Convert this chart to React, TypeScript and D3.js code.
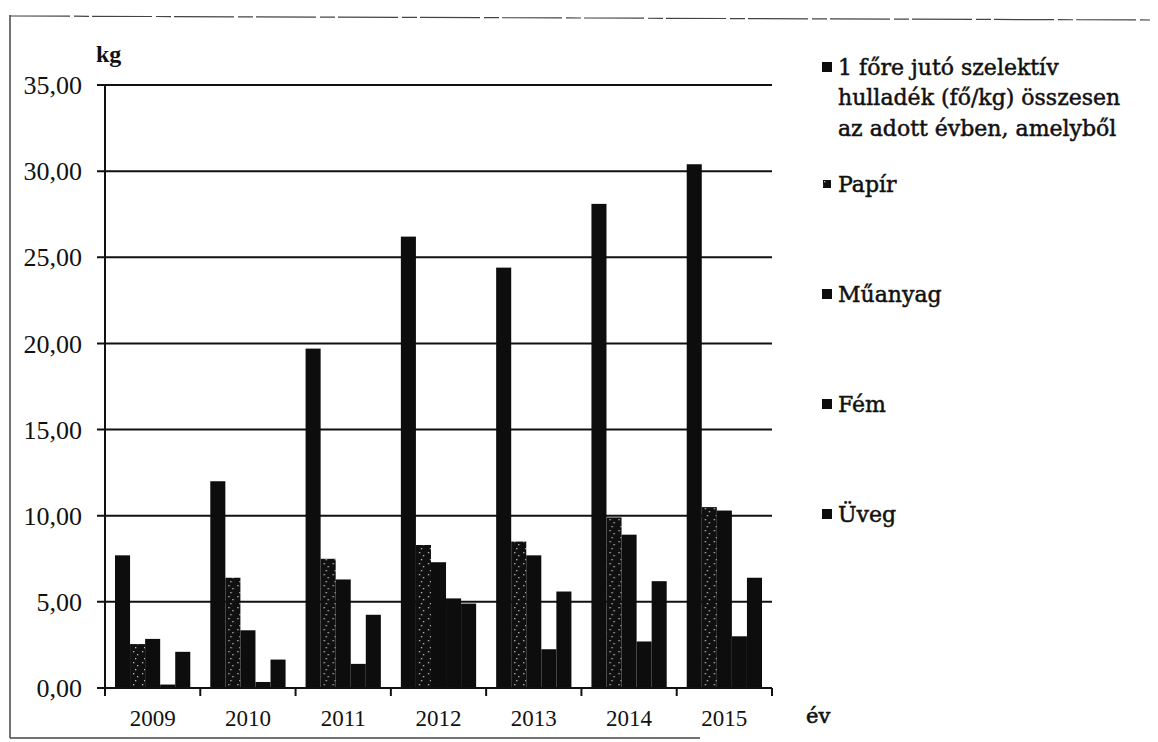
import React, { useEffect, useRef } from 'react';
import * as d3 from 'd3';

// years on the x axis
const years = ['2009', '2010', '2011', '2012', '2013', '2014', '2015'];

// series (kg / fő)
const totalValues = [7.7, 12.0, 19.7, 26.2, 24.4, 28.1, 30.4];
const papirValues = [2.55, 6.4, 7.5, 8.3, 8.5, 9.9, 10.5];
const muanyagValues = [2.85, 3.35, 6.3, 7.3, 7.7, 8.9, 10.3];
const femValues = [0.2, 0.35, 1.4, 5.2, 2.25, 2.7, 3.0];
const uvegValues = [2.1, 1.65, 4.25, 4.9, 5.6, 6.2, 6.4];

const seriesKeys = ['total', 'papir', 'muanyag', 'fem', 'uveg'];
const seriesLabels = [
    ['1 főre jutó szelektív', 'hulladék (fő/kg) összesen', 'az adott évben, amelyből'],
    ['Papír'],
    ['Műanyag'],
    ['Fém'],
    ['Üveg'],
];
const yTicks = [0, 5, 10, 15, 20, 25, 30, 35];

const FONT = '"Liberation Serif", "DejaVu Serif", serif';
const LEGEND_FONT = '"DejaVu Serif", "Liberation Serif", serif';

const App = () => {
    const ref = useRef<SVGSVGElement | null>(null);

    useEffect(() => {
        const svg = d3.select(ref.current);
        svg.selectAll('*').remove();

        const left = 105, right = 772, top = 85, bottom = 688;

        const data = years.map((yr, i) => ({
            year: yr,
            total: totalValues[i],
            papir: papirValues[i],
            muanyag: muanyagValues[i],
            fem: femValues[i],
            uveg: uvegValues[i],
        }));

        // speckled fill for Papír (black with a few light specks)
        const defs = svg.append('defs');
        const pat = defs.append('pattern')
            .attr('id', 'speckle')
            .attr('patternUnits', 'userSpaceOnUse')
            .attr('width', 9)
            .attr('height', 11);
        pat.append('rect').attr('width', 9).attr('height', 11).attr('fill', '#101010');
        [[1, 2], [5, 5], [3, 9]].forEach(([px, py]) => {
            pat.append('rect').attr('x', px).attr('y', py)
                .attr('width', 1.3).attr('height', 1.3).attr('fill', '#bdbdbd');
        });

        // frame of the scanned page
        const frame = svg.append('g').attr('stroke', '#444').attr('fill', 'none');
        frame.append('line').attr('x1', 10).attr('x2', 1150).attr('y1', 16).attr('y2', 20)
            .attr('stroke-width', 1.2).attr('stroke-dasharray', '60 4 15 3');
        frame.append('line').attr('x1', 10).attr('x2', 10).attr('y1', 15).attr('y2', 738)
            .attr('stroke-width', 1.5);
        frame.append('line').attr('x1', 10).attr('x2', 700).attr('y1', 738).attr('y2', 738)
            .attr('stroke-width', 1.3);

        // scales
        const x0 = d3.scaleBand().domain(years).range([left, right]);
        const bw = x0.bandwidth();
        const x1 = d3.scaleBand().domain(seriesKeys).range([bw * 0.105, bw * 0.895]);
        const y = d3.scaleLinear().domain([0, 35]).range([bottom, top]);

        // gridlines + y ticks
        const grid = svg.append('g');
        yTicks.forEach(t => {
            grid.append('line')
                .attr('x1', left - 8)
                .attr('x2', t === 0 ? left : right)
                .attr('y1', y(t)).attr('y2', y(t))
                .attr('stroke', '#111').attr('stroke-width', 2);
            grid.append('text')
                .attr('x', 82)
                .attr('y', y(t))
                .attr('dy', '0.35em')
                .attr('text-anchor', 'end')
                .attr('font-family', FONT)
                .attr('font-size', 26)
                .attr('fill', '#111')
                .text(d3.format('.2f')(t).replace('.', ','));
        });

        // bars
        const groups = svg.append('g').selectAll('g')
            .data(data)
            .enter().append('g')
            .attr('transform', d => 'translate(' + x0(d.year) + ',0)');
        groups.selectAll('rect')
            .data(d => seriesKeys.map(k => ({ key: k, value: (d as any)[k] as number })))
            .enter().append('rect')
            .attr('x', d => x1(d.key) as number)
            .attr('width', x1.bandwidth())
            .attr('y', d => y(d.value))
            .attr('height', d => y(0) - y(d.value))
            .attr('fill', d => d.key === 'papir' ? 'url(#speckle)' : '#0d0d0d');

        // axes lines
        svg.append('line')
            .attr('x1', left).attr('x2', left).attr('y1', top).attr('y2', bottom + 4)
            .attr('stroke', '#111').attr('stroke-width', 2);
        svg.append('line')
            .attr('x1', left).attr('x2', right).attr('y1', bottom).attr('y2', bottom)
            .attr('stroke', '#111').attr('stroke-width', 2);
        [...years.map(yr => x0(yr) as number), right].forEach(tx => {
            svg.append('line')
                .attr('x1', tx).attr('x2', tx).attr('y1', bottom).attr('y2', bottom + 8)
                .attr('stroke', '#111').attr('stroke-width', 2);
        });

        // x labels
        svg.append('g').selectAll('text')
            .data(years)
            .enter().append('text')
            .attr('x', d => (x0(d) as number) + bw / 2)
            .attr('y', 726)
            .attr('text-anchor', 'middle')
            .attr('font-family', FONT)
            .attr('font-size', 23)
            .attr('fill', '#111')
            .text(d => d);

        // axis titles
        svg.append('text')
            .attr('x', 96).attr('y', 62)
            .attr('font-family', FONT).attr('font-size', 24).attr('font-weight', 'bold')
            .attr('fill', '#111').text('kg');
        svg.append('text')
            .attr('x', 806).attr('y', 723)
            .attr('font-family', LEGEND_FONT).attr('font-size', 21)
            .attr('stroke', '#111').attr('stroke-width', 0.6)
            .attr('fill', '#111').text('év');

        // legend
        const legend = svg.append('g');
        seriesKeys.forEach((k, i) => {
            const cy = i === 0 ? 67 : 184 + (i - 1) * 110;
            const size = k === 'papir' ? 8 : 10;
            legend.append('rect')
                .attr('x', 822 + (10 - size) / 2)
                .attr('y', cy - size / 2)
                .attr('width', size).attr('height', size)
                .attr('fill', k === 'papir' ? 'url(#speckle)' : '#0d0d0d');
            seriesLabels[i].forEach((line, j) => {
                legend.append('text')
                    .attr('x', 838)
                    .attr('y', cy + j * 30.5)
                    .attr('dy', '0.35em')
                    .attr('font-family', LEGEND_FONT)
                    .attr('font-size', 22)
                    .attr('fill', '#111')
                    .attr('stroke', '#111')
                    .attr('stroke-width', 0.5)
                    .text(line);
            });
        });
    }, []);

    return (
        <svg ref={ref} width={1158} height={742}
            style={{ position: 'absolute', left: 0, top: 0, background: '#fff' }} />
    );
};

export default App;
